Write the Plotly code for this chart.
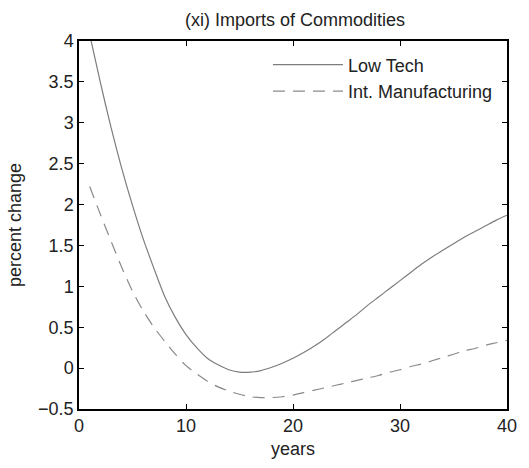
import plotly.graph_objects as go

years = list(range(1, 41))
low_tech = [4.08, 3.49, 2.94, 2.44, 1.99, 1.58, 1.22, 0.88, 0.62, 0.41,
            0.25, 0.12, 0.04, -0.02, -0.05, -0.05, -0.03, 0.01, 0.06, 0.12,
            0.19, 0.27, 0.36, 0.46, 0.56, 0.66, 0.77, 0.87, 0.97, 1.07,
            1.17, 1.27, 1.36, 1.44, 1.52, 1.60, 1.67, 1.74, 1.81, 1.87]
int_manuf = [2.22, 1.88, 1.55, 1.23, 0.94, 0.70, 0.50, 0.33, 0.17, 0.03,
             -0.07, -0.16, -0.23, -0.28, -0.32, -0.35, -0.36, -0.36, -0.35, -0.33,
             -0.30, -0.27, -0.24, -0.21, -0.18, -0.15, -0.12, -0.09, -0.05, -0.02,
             0.02, 0.05, 0.09, 0.13, 0.17, 0.21, 0.24, 0.28, 0.31, 0.34]

FONT = "Liberation Sans, Arial"

fig = go.Figure()
fig.add_trace(go.Scatter(x=years, y=low_tech, mode="lines", name="Low Tech",
                         line=dict(color="#7d7d7d", width=1.2, dash="solid",
                                   shape="spline", smoothing=0.8)))
fig.add_trace(go.Scatter(x=years, y=int_manuf, mode="lines", name="Int. Manufacturing",
                         line=dict(color="#8a8a8a", width=1.2, dash="12px,8px",
                                   shape="spline", smoothing=0.8)))

axis_common = dict(showgrid=False, zeroline=False, showline=True, linecolor="black",
                   linewidth=1.5, mirror="ticks", ticks="inside", ticklen=5,
                   tickcolor="black", tickwidth=1.2,
                   tickfont=dict(family=FONT, size=18, color="#222"))

fig.update_layout(
    width=529, height=468,
    margin=dict(l=79, r=14, t=41, b=57),
    paper_bgcolor="white", plot_bgcolor="white",
    title=dict(text="(xi) Imports of Commodities", x=0.5577, xanchor="center",
               y=0.957, yanchor="middle",
               font=dict(family=FONT, size=18, color="#222")),
    xaxis=dict(range=[0, 40], dtick=10, title=dict(text="years", standoff=7,
               font=dict(family=FONT, size=18, color="#222")), **axis_common),
    yaxis=dict(range=[-0.5, 4], dtick=0.5, title=dict(text="percent change", standoff=12,
               font=dict(family=FONT, size=18, color="#222")), **axis_common),
    legend=dict(x=0.4415, y=0.985, xanchor="left", yanchor="top", bgcolor="rgba(0,0,0,0)",
                borderwidth=0, itemwidth=70, tracegroupgap=0,
                font=dict(family=FONT, size=18, color="#222")),
    showlegend=True,
)

fig.write_html("out.html")
